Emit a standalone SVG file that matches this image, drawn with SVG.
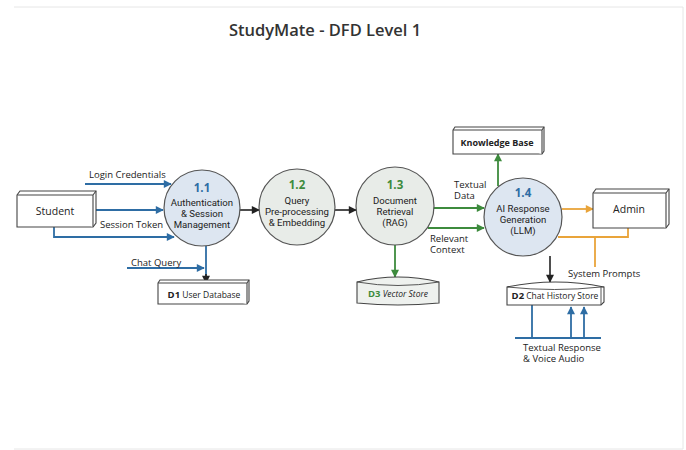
<svg xmlns="http://www.w3.org/2000/svg" width="686" height="450" viewBox="0 0 686 450">
<defs>
<style>
.t{font-family:"Open Sans","Noto Sans","DejaVu Sans",sans-serif;fill:#222;}
.lbl{font-size:9.5px;}
.ct{font-family:Roboto,"Liberation Sans",sans-serif;font-size:9.6px;text-anchor:middle;}
.num{font-family:"Open Sans","Noto Sans",sans-serif;font-size:11.5px;font-weight:700;}
.blue{fill:#2e6da4;}
.green{fill:#3d8b3d;}
.proc{stroke:#555;stroke-width:1.2;}
.box{fill:#fff;stroke:#444;stroke-width:1.1;}
.lb{stroke:#2e6da4;stroke-width:1.8;fill:none;}
.lk{stroke:#222;stroke-width:1.6;fill:none;}
.lg{stroke:#3d8b3d;stroke-width:1.8;fill:none;}
.lo{stroke:#e9a43a;stroke-width:1.8;fill:none;}
</style>
<marker id="ab" viewBox="0 0 10 10" refX="9" refY="5" markerWidth="9" markerHeight="8" markerUnits="userSpaceOnUse" orient="auto"><path d="M0,0 L10,5 L0,10 z" fill="#2e6da4"/></marker>
<marker id="ak" viewBox="0 0 10 10" refX="9" refY="5" markerWidth="9" markerHeight="8" markerUnits="userSpaceOnUse" orient="auto"><path d="M0,0 L10,5 L0,10 z" fill="#222"/></marker>
<marker id="ag" viewBox="0 0 10 10" refX="9" refY="5" markerWidth="9" markerHeight="8" markerUnits="userSpaceOnUse" orient="auto"><path d="M0,0 L10,5 L0,10 z" fill="#3d8b3d"/></marker>
<marker id="ao" viewBox="0 0 10 10" refX="9" refY="5" markerWidth="9" markerHeight="8" markerUnits="userSpaceOnUse" orient="auto"><path d="M0,0 L10,5 L0,10 z" fill="#e9a43a"/></marker>
</defs>
<rect width="686" height="450" fill="#fff"/>
<path d="M14,7 L683,7 L683,449 L14,449" fill="none" stroke="#e6e6e6" stroke-width="1"/>
<text class="t" x="325" y="36" text-anchor="middle" style="font-size:16.5px;font-weight:600;fill:#333">StudyMate - DFD Level 1</text>

<g id="connectors">
<path class="lb" d="M85,184 L171,184" marker-end="url(#ab)"/>
<path class="lb" d="M93,210 L163,210" marker-end="url(#ab)"/>
<path class="lb" d="M54,227 L54,237 L174,237" marker-end="url(#ab)"/>
<path class="lb" d="M127,268 L204,268" marker-end="url(#ab)"/>
<path class="lb" d="M206,246 L206,276"/>
<path class="lk" d="M206,274 L206,283" marker-end="url(#ak)"/>
<path class="lk" d="M240,210 L259,210" marker-end="url(#ak)"/>
<path class="lk" d="M335,210 L356,210" marker-end="url(#ak)"/>
<path class="lg" d="M395,245 L395,277" marker-end="url(#ag)"/>
<path class="lg" d="M433,208 L484,208" marker-end="url(#ag)"/>
<path class="lg" d="M428,228 L484,228" marker-end="url(#ag)"/>
<path class="lg" d="M498,186 L498,154" marker-end="url(#ag)"/>
<path class="lo" d="M562,209 L593,209" marker-end="url(#ao)"/>
<path class="lo" d="M628,228 L628,237 L558,237"/>
<path class="lo" d="M595,237 L595,267"/>
<path class="lk" d="M550,256 L550,282" marker-end="url(#ak)"/>
<path class="lb" d="M532,304 L532,338 M515,338 L601,338"/>
<path class="lb" d="M571,338 L571,307" marker-end="url(#ab)"/>
<path class="lb" d="M584,338 L584,307" marker-end="url(#ab)"/>
<text class="t lbl" x="89" y="177.5">Login Credentials</text>
<text class="t lbl" x="100" y="227.5">Session Token</text>
<text class="t lbl" x="131" y="265.5">Chat Query</text>
<text class="t lbl" x="454" y="187.5">Textual<tspan x="454" dy="11.5">Data</tspan></text>
<text class="t lbl" x="430" y="241.5">Relevant<tspan x="430" dy="11.5">Context</tspan></text>
<text class="t lbl" x="568" y="276.5">System Prompts</text>
<text class="t lbl" x="523" y="350.5">Textual Response<tspan x="523" dy="11.5">&amp; Voice Audio</tspan></text>
</g>

<g id="student">
<path class="box" d="M17,195 L20,191 L96,191 L96,223 L93,227 L17,227 Z"/>
<path class="box" d="M17,195 L93,195 L93,227 M93,195 L96,191" fill="none"/>
<text class="t" x="55" y="214.5" text-anchor="middle" style="font-size:10.5px">Student</text>
</g>

<g id="admin">
<path class="box" d="M593,193 L596,189 L669,189 L669,224 L666,228 L593,228 Z"/>
<path class="box" d="M593,193 L666,193 L666,228 M666,193 L669,189" fill="none"/>
<text class="t" x="629" y="212.5" text-anchor="middle" style="font-size:10.5px">Admin</text>
</g>

<g id="kb">
<path class="box" d="M453,130 L455,127 L544,127 L544,151 L542,154 L453,154 Z"/>
<path class="box" d="M453,130 L542,130 L542,154 M542,130 L544,127" fill="none"/>
<text class="t" x="497" y="146" text-anchor="middle" style="font-size:9px;font-weight:700">Knowledge Base</text>
</g>

<g id="p11">
<circle class="proc" cx="202" cy="208" r="38" fill="#dde6f1"/>
<text class="t ct" x="202" y="192"><tspan class="num blue">1.1</tspan><tspan x="202" dy="13.5">Authentication</tspan><tspan x="202" dy="11">&amp; Session</tspan><tspan x="202" dy="11">Management</tspan></text>
</g>

<g id="p12">
<circle class="proc" cx="297" cy="207" r="38" fill="#e8ece8"/>
<text class="t ct" x="297" y="188.5"><tspan class="num green">1.2</tspan><tspan x="297" dy="15.5">Query</tspan><tspan x="297" dy="11">Pre-processing</tspan><tspan x="297" dy="11">&amp; Embedding</tspan></text>
</g>

<g id="p13">
<circle class="proc" cx="395" cy="206" r="39" fill="#e8ece8"/>
<text class="t ct" x="395" y="188.5"><tspan class="num green">1.3</tspan><tspan x="395" dy="15">Document</tspan><tspan x="395" dy="11">Retrieval</tspan><tspan x="395" dy="11">(RAG)</tspan></text>
</g>

<g id="p14">
<circle class="proc" cx="523" cy="217" r="39" fill="#dde6f1"/>
<text class="t ct" x="523" y="196.5"><tspan class="num blue">1.4</tspan><tspan x="523" dy="15">AI Response</tspan><tspan x="523" dy="11">Generation</tspan><tspan x="523" dy="11">(LLM)</tspan></text>
</g>

<g id="d1">
<path class="box" d="M158,283 L160,280 L249,280 L249,301 L247,304 L158,304 Z"/>
<path class="box" d="M158,283 L247,283 L247,304 M247,283 L249,280" fill="none"/>
<text class="t" x="204" y="298" text-anchor="middle" style="font-size:8.5px"><tspan style="font-weight:700;font-size:9.5px">D1</tspan> User Database</text>
</g>

<g id="d3">
<path d="M357,282 Q398,272 439,282 L439,303 Q398,307 357,303 Z" fill="#eef1ee" stroke="#444" stroke-width="1.1"/>
<path d="M357,282 Q398,289 439,282" fill="none" stroke="#444" stroke-width="0.9"/>
<text class="t" x="398" y="297" text-anchor="middle" style="font-size:8.5px;font-style:italic"><tspan style="font-weight:700;font-style:normal;font-size:9.5px;fill:#3d8b3d">D3</tspan> Vector Store</text>
</g>

<g id="d2">
<path d="M507,287 Q555,277 604,287 L604,302 L601,305 L507,305 Z" fill="#fff" stroke="#444" stroke-width="1.1"/>
<path d="M507,287 Q555,292 601,287 L601,305 M601,287 L604,287" fill="none" stroke="#444" stroke-width="0.9"/>
<text class="t" x="555" y="299" text-anchor="middle" style="font-size:8.5px"><tspan style="font-weight:700;font-size:9.5px">D2</tspan> Chat History Store</text>
</g>
</svg>
